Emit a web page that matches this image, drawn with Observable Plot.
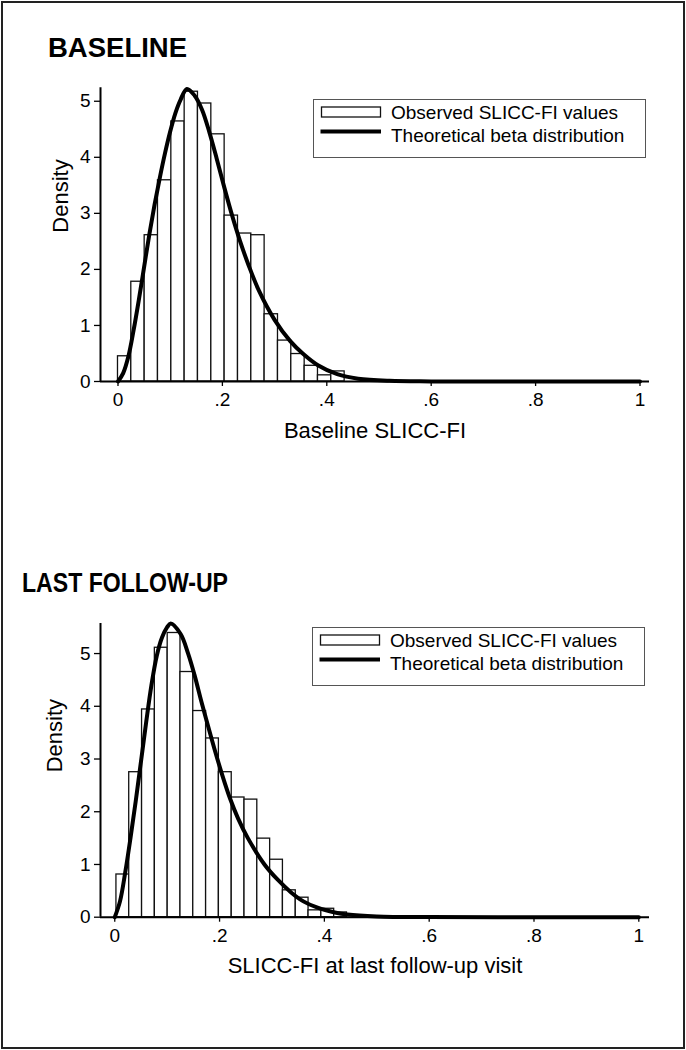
<!DOCTYPE html>
<html><head><meta charset="utf-8">
<script src="https://cdn.jsdelivr.net/npm/d3@7"></script>
<script src="https://cdn.jsdelivr.net/npm/@observablehq/plot@0.6"></script>
<style>
body{margin:0;background:#fff;}
#page{position:relative;width:686px;height:1050px;font-family:"Liberation Sans",Arial,Helvetica,sans-serif;color:#000;overflow:hidden;}
.chart{position:absolute;left:0;}
#overlay{position:absolute;left:0;top:0;}
</style>
</head><body><div id="page"></div>
<script>
// ---------- data ----------
const xTicks = [0, 0.2, 0.4, 0.6, 0.8, 1];
const yTicks = [0, 1, 2, 3, 4, 5];
const legendLabels = ["Observed SLICC-FI values", "Theoretical beta distribution"];

// Baseline histogram (bin edges and densities)
const baseEdges = [0, 0.0255, 0.0511, 0.0766, 0.1022, 0.1277, 0.1532, 0.1788, 0.2043, 0.2299, 0.2554, 0.2809, 0.3065, 0.3320, 0.3576, 0.3831, 0.4086, 0.4342];
const baseDensity = [0.45, 1.78, 2.61, 3.59, 4.64, 5.17, 4.96, 4.41, 2.96, 2.64, 2.61, 1.20, 0.73, 0.49, 0.28, 0.11, 0.18];
// Baseline theoretical beta curve
const baseCurveX = [0, 0.010, 0.020, 0.030, 0.040, 0.050, 0.060, 0.070, 0.080, 0.090, 0.100, 0.110, 0.120, 0.132, 0.147, 0.161, 0.175, 0.189, 0.204, 0.219, 0.234, 0.250, 0.270, 0.300, 0.330, 0.355, 0.383, 0.420, 0.460, 0.520, 0.600, 0.800, 1];
const baseCurveY = [0, 0.15, 0.45, 0.92, 1.46, 2.04, 2.62, 3.15, 3.63, 4.07, 4.46, 4.79, 5.03, 5.22, 5.10, 4.85, 4.45, 3.98, 3.45, 2.95, 2.50, 2.08, 1.62, 1.10, 0.72, 0.49, 0.29, 0.13, 0.05, 0.012, 0.002, 0, 0];

// Last follow-up histogram
const lastEdges = [0.0032, 0.0276, 0.0521, 0.0765, 0.1010, 0.1254, 0.1498, 0.1743, 0.1987, 0.2232, 0.2476, 0.2720, 0.2965, 0.3209, 0.3454, 0.3698, 0.3942, 0.4187, 0.4431];
const lastDensity = [0.81, 2.75, 3.94, 5.11, 5.39, 4.65, 3.91, 3.39, 2.75, 2.27, 2.23, 1.49, 1.09, 0.51, 0.37, 0.13, 0.16, 0.09];
const lastCurveX = [0, 0.010, 0.020, 0.030, 0.040, 0.050, 0.060, 0.070, 0.080, 0.090, 0.100, 0.1067, 0.1257, 0.140, 0.152, 0.165, 0.1746, 0.190, 0.205, 0.220, 0.235, 0.254, 0.2857, 0.310, 0.3365, 0.360, 0.387, 0.420, 0.444, 0.500, 0.600, 0.800, 1];
const lastCurveY = [0, 0.30, 0.85, 1.50, 2.20, 2.95, 3.70, 4.40, 4.95, 5.30, 5.50, 5.57, 5.37, 5.00, 4.60, 4.10, 3.75, 3.20, 2.70, 2.25, 1.88, 1.50, 1.00, 0.72, 0.47, 0.30, 0.18, 0.09, 0.05, 0.015, 0.002, 0, 0];

// ---------- drawing ----------
const fmt = d => String(d).replace(/^0\./, ".");
const FONT = "Liberation Sans, Arial, Helvetica, sans-serif";

function histChart({edges, dens, cx, cy, xDomain, yMax, xLabel, height, mt, mb, xLabelDy, yLabelDx, yLabelDy}) {
  const bars = dens.map((d, i) => ({x1: edges[i], x2: edges[i + 1], y: d}));
  const curve = cx.map((x, i) => ({x, y: cy[i]}));
  return Plot.plot({
    width: 686, height,
    marginLeft: 100, marginRight: 37, marginTop: mt, marginBottom: mb,
    x: {domain: xDomain},
    y: {domain: [0, yMax]},
    style: {fontFamily: FONT, fontSize: "19px", color: "#000", background: "transparent", overflow: "visible"},
    marks: [
      Plot.rectY(bars, {x1: "x1", x2: "x2", y: "y", fill: "white", stroke: "#111", strokeWidth: 1.3}),
      Plot.line(curve, {x: "x", y: "y", curve: "catmull-rom", stroke: "#000", strokeWidth: 4}),
      Plot.ruleX([xDomain[0]], {stroke: "#000", strokeWidth: 2}),
      Plot.ruleY([0], {stroke: "#000", strokeWidth: 2}),
      Plot.axisX(xTicks, {tickFormat: fmt, tickSize: 5, tickPadding: 6, stroke: "#000", strokeWidth: 1.3, fontSize: 19, label: null}),
      Plot.axisY(yTicks, {tickFormat: d => String(d), tickSize: 6, tickPadding: 4, stroke: "#000", strokeWidth: 1.3, fontSize: 19, label: null}),
      Plot.text([xLabel], {frameAnchor: "bottom", dy: xLabelDy, fontSize: 22, fill: "#000"}),
      Plot.text(["Density"], {frameAnchor: "left", rotate: -90, dx: yLabelDx, dy: yLabelDy, fontSize: 22, fill: "#000"})
    ]
  });
}

const page = document.getElementById("page");

const top1 = histChart({edges: baseEdges, dens: baseDensity, cx: baseCurveX, cy: baseCurveY,
  xDomain: [-0.0335, 1.0182], yMax: 5.24, xLabel: "Baseline SLICC-FI", height: 380, mt: 7.3, mb: 79,
  xLabelDy: 56.5, yLabelDx: -40, yLabelDy: -2});
top1.classList.add("chart"); top1.style.top = "80px";
page.appendChild(top1);

const bot1 = histChart({edges: lastEdges, dens: lastDensity, cx: lastCurveX, cy: lastCurveY,
  xDomain: [-0.0272, 1.0204], yMax: 5.57, xLabel: "SLICC-FI at last follow-up visit", height: 385, mt: 8, mb: 83.3,
  xLabelDy: 56, yLabelDx: -46, yLabelDy: 2});
bot1.classList.add("chart"); bot1.style.top = "615px";
page.appendChild(bot1);

// overlay: border, titles, legends
const svg = d3.select(page).append("svg").attr("id", "overlay").attr("width", 686).attr("height", 1050)
  .style("font-family", FONT);
svg.append("rect").attr("x", 2).attr("y", 2).attr("width", 682).attr("height", 1046)
  .attr("fill", "none").attr("stroke", "#222").attr("stroke-width", 2);
svg.append("text").attr("x", 48).attr("y", 57).attr("font-weight", "bold").attr("font-size", 27.5).text("BASELINE");
svg.append("text").attr("x", 22).attr("y", 592).attr("font-weight", "bold").attr("font-size", 27.5)
  .attr("textLength", 206).attr("lengthAdjust", "spacingAndGlyphs").text("LAST FOLLOW-UP");

function legend(x, y) {
  const g = svg.append("g").attr("transform", `translate(${x},${y})`);
  g.append("rect").attr("x", 0.5).attr("y", 0.5).attr("width", 332).attr("height", 58)
    .attr("fill", "white").attr("stroke", "#555").attr("stroke-width", 1);
  g.append("rect").attr("x", 8.5).attr("y", 8).attr("width", 59).attr("height", 10)
    .attr("fill", "white").attr("stroke", "#111").attr("stroke-width", 1.3);
  g.append("line").attr("x1", 7.5).attr("x2", 68).attr("y1", 32.5).attr("y2", 32.5)
    .attr("stroke", "#000").attr("stroke-width", 4);
  g.append("text").attr("x", 78).attr("y", 20).attr("font-size", 19).text(legendLabels[0]);
  g.append("text").attr("x", 78).attr("y", 42.5).attr("font-size", 19).text(legendLabels[1]);
}
legend(313, 99);
legend(312, 627);
</script>
</body></html>
